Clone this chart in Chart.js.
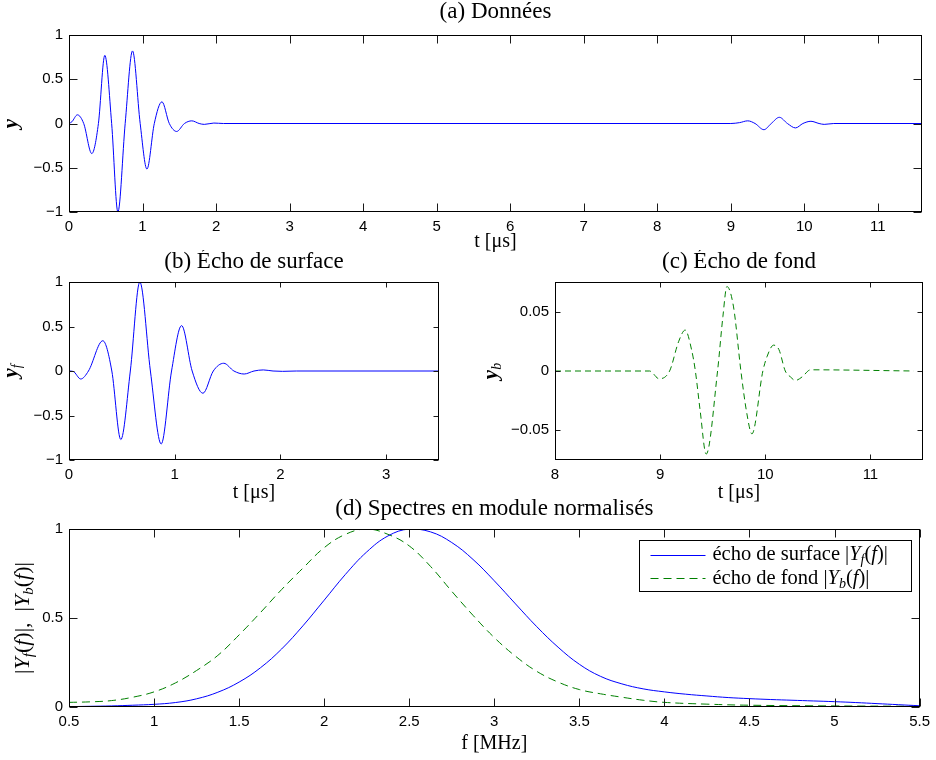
<!DOCTYPE html>
<html lang="fr">
<head>
<meta charset="utf-8">
<title>Écho de surface et écho de fond</title>
<script src="https://cdn.jsdelivr.net/npm/chart.js@4.4.1/dist/chart.umd.min.js"></script>
<style>
  html, body { margin: 0; padding: 0; background: #fff; }
  #wrap { position: relative; width: 936px; height: 760px; overflow: hidden; }
  canvas { position: absolute; }
</style>
</head>
<body>
<div id="wrap">
  <canvas id="chartA" width="936" height="254" style="left:0;top:0"></canvas>
  <canvas id="chartB" width="470" height="255" style="left:0;top:250px"></canvas>
  <canvas id="chartC" width="466" height="255" style="left:470px;top:250px"></canvas>
  <canvas id="chartD" width="936" height="259" style="left:0;top:497px"></canvas>
</div>
<script>
// (a) full record
const aTime = [0, 0.04, 0.114, 0.2, 0.31, 0.4, 0.487, 0.58, 0.665, 0.764, 0.864, 0.968, 1.06, 1.16, 1.264, 1.364, 1.464, 1.57, 1.67, 1.77, 1.84, 1.97, 2.1,
  9.0, 9.12, 9.23, 9.33, 9.45, 9.55, 9.66, 9.77, 9.88, 9.98, 10.09, 10.2, 10.27, 10.4, 11.6];
const aSignal = [0, 0.02, 0.098, 0, -0.34, 0, 0.77, 0, -1.0, 0, 0.82, 0, -0.515, 0, 0.245, 0, -0.09, 0, 0.03, 0, -0.01, 0.005, 0,
  0, 0.01, 0.03, 0, -0.07, 0, 0.07, 0, -0.05, 0, 0.025, 0, -0.01, 0, 0];
const aTicksX = [0, 1, 2, 3, 4, 5, 6, 7, 8, 9, 10, 11];
const aTicksY = [-1, -0.5, 0, 0.5, 1];

// (b) surface echo
const bTime = [0, 0.04, 0.111, 0.184, 0.32, 0.405, 0.49, 0.58, 0.67, 0.77, 0.872, 0.97, 1.065, 1.165, 1.267, 1.365, 1.464, 1.56, 1.657, 1.75, 1.838, 1.93, 2.02, 2.15, 3.5];
const bSurface = [0, -0.005, -0.09, 0, 0.34, 0, -0.77, 0, 1.0, 0, -0.82, 0, 0.51, 0, -0.25, 0, 0.087, 0, -0.034, 0, 0.012, 0, -0.004, 0, 0];
const bTicksX = [0, 1, 2, 3];
const bTicksY = [-1, -0.5, 0, 0.5, 1];

// (c) back echo
const cTime = [8.0, 8.5, 8.9, 8.99, 9.09, 9.175, 9.238, 9.3, 9.335, 9.38, 9.438, 9.546, 9.597, 9.635, 9.698, 9.768, 9.825, 9.873, 9.977, 10.016, 10.079, 10.13, 10.19, 10.24, 10.286, 10.35, 10.43, 11.41];
const cBack = [0, 0, 0, -0.0065, 0, 0.0246, 0.0345, 0.0175, 0, -0.033, -0.07, 0, 0.046, 0.0712, 0.054, 0, -0.036, -0.053, 0, 0.012, 0.0218, 0.018, 0, -0.005, -0.008, -0.005, 0.001, 0];
const cTicksX = [8, 9, 10, 11];
const cTicksY = [-0.05, 0, 0.05];

// (d) normalised spectra
const dFreqSurface = [0.5, 0.625, 0.75, 0.875, 1.0, 1.125, 1.25, 1.375, 1.5, 1.625, 1.75, 1.875, 2.0, 2.125, 2.25, 2.375, 2.5, 2.625, 2.75, 2.875,
  3.0, 3.125, 3.25, 3.375, 3.5, 3.625, 3.75, 3.875, 4.0, 4.125, 4.25, 4.375, 4.5, 4.625, 4.75, 4.875, 5.0, 5.125, 5.25, 5.375, 5.5];
const dSpecSurface = [0.002, 0.004, 0.006, 0.01, 0.015, 0.025, 0.046, 0.083, 0.14, 0.22, 0.326, 0.456, 0.6, 0.745, 0.871, 0.961, 1.0, 0.984, 0.924, 0.829,
  0.709, 0.579, 0.451, 0.336, 0.24, 0.172, 0.13, 0.102, 0.085, 0.072, 0.062, 0.053, 0.047, 0.042, 0.038, 0.034, 0.03, 0.025, 0.019, 0.013, 0.007];
const dFreqBack = [0.5, 0.625, 0.75, 0.875, 1.0, 1.125, 1.25, 1.375, 1.5, 1.625, 1.75, 1.875, 2.0, 2.125, 2.25, 2.375, 2.5, 2.625, 2.75, 2.875,
  3.0, 3.125, 3.25, 3.375, 3.5, 3.625, 3.75, 3.875, 4.0, 4.25, 4.5, 5.0, 5.5];
const dSpecBack = [0.026, 0.029, 0.036, 0.055, 0.085, 0.135, 0.205, 0.29, 0.405, 0.53, 0.66, 0.78, 0.895, 0.97, 1.0, 0.97, 0.905, 0.79, 0.65, 0.515,
  0.39, 0.285, 0.2, 0.14, 0.098, 0.074, 0.055, 0.038, 0.026, 0.016, 0.01, 0.006, 0.004];
const dTicksX = [0.5, 1, 1.5, 2, 2.5, 3, 3.5, 4, 4.5, 5, 5.5];
const dTicksY = [0, 0.5, 1];

const BLUE = "#0000ff";
const GREEN = "#008000";
const SERIF = '"Liberation Serif", "Times New Roman", serif';
const SANS = '"Liberation Sans", Arial, sans-serif';

Chart.defaults.color = "#000";

function pairs(xs, ys) {
  return xs.map((x, i) => ({ x: x, y: ys[i] }));
}

function fixedTicks(values) {
  return function (scale) {
    scale.ticks = values.map((v) => ({ value: v }));
  };
}

function fmt(v) {
  return v < 0 ? "\u2212" + Math.abs(v) : String(v);
}

// draws a run of text pieces with their own fonts, centred on x
function drawParts(ctx, parts, x, y) {
  let total = 0;
  parts.forEach((p) => {
    ctx.font = p.f;
    total += ctx.measureText(p.t).width;
  });
  let cx = x - total / 2;
  parts.forEach((p) => {
    ctx.font = p.f;
    ctx.fillText(p.t, cx, y + (p.dy || 0));
    cx += ctx.measureText(p.t).width;
  });
}

function drawPartsLeft(ctx, parts, x, y) {
  let cx = x;
  parts.forEach((p) => {
    ctx.font = p.f;
    ctx.fillText(p.t, cx, y + (p.dy || 0));
    cx += ctx.measureText(p.t).width;
  });
}

// box round the plot area and inward ticks on every side
const frameTicks = {
  id: "frameTicks",
  afterDatasetsDraw(chart, args, opts) {
    const { ctx, chartArea: a, scales } = chart;
    const len = opts.len || 6;
    const L = Math.round(a.left) + 0.5;
    const R = Math.round(a.right) - 0.5;
    const T = Math.round(a.top) + 0.5;
    const B = Math.round(a.bottom) - 0.5;
    ctx.save();
    ctx.strokeStyle = "#1a1a1a";
    ctx.lineWidth = 1;
    ctx.beginPath();
    scales.x.ticks.forEach((t) => {
      const px = Math.round(scales.x.getPixelForValue(t.value)) + 0.5;
      ctx.moveTo(px, B);
      ctx.lineTo(px, B - len);
      ctx.moveTo(px, T);
      ctx.lineTo(px, T + len);
    });
    scales.y.ticks.forEach((t) => {
      const py = Math.round(scales.y.getPixelForValue(t.value)) + 0.5;
      ctx.moveTo(L, py);
      ctx.lineTo(L + len, py);
      ctx.moveTo(R, py);
      ctx.lineTo(R - len, py);
    });
    ctx.stroke();
    ctx.strokeStyle = "#000";
    ctx.strokeRect(L, T, R - L, B - T);
    ctx.restore();
  },
};

// rotated y label with sub-scripts
const yLabel = {
  id: "yLabel",
  afterDraw(chart, args, opts) {
    const { ctx, chartArea: a } = chart;
    ctx.save();
    ctx.fillStyle = "#000";
    ctx.textBaseline = "alphabetic";
    ctx.translate(opts.x, (a.top + a.bottom) / 2);
    ctx.rotate(-Math.PI / 2);
    drawParts(ctx, opts.parts, 0, 0);
    ctx.restore();
  },
};

// legend box drawn inside the plot area, top right
const boxLegend = {
  id: "boxLegend",
  afterDraw(chart, args, opts) {
    const { ctx, chartArea: a } = chart;
    const left = Math.round(a.right - opts.right - opts.width) + 0.5;
    const top = Math.round(a.top + opts.top) + 0.5;
    ctx.save();
    ctx.fillStyle = "#fff";
    ctx.fillRect(left, top, opts.width, opts.height);
    ctx.strokeStyle = "#000";
    ctx.lineWidth = 1;
    ctx.strokeRect(left, top, opts.width, opts.height);
    chart.data.datasets.forEach((ds, i) => {
      const y = top + 14 + i * 23.5;
      ctx.strokeStyle = ds.borderColor;
      ctx.setLineDash(ds.borderDash || []);
      ctx.beginPath();
      ctx.moveTo(left + 11, Math.round(y) + 0.5);
      ctx.lineTo(left + 66, Math.round(y) + 0.5);
      ctx.stroke();
      ctx.setLineDash([]);
      ctx.fillStyle = "#000";
      ctx.textBaseline = "alphabetic";
      drawPartsLeft(ctx, opts.entries[i], left + 73, y + 5.5);
    });
    ctx.restore();
  },
};

function makePlot(id, p) {
  const tickFont = { family: SANS, size: 15 };
  return new Chart(document.getElementById(id), {
    type: "line",
    data: { datasets: p.datasets },
    options: {
      responsive: false,
      animation: false,
      events: [],
      layout: { padding: { left: 0, right: p.padRight, top: 0, bottom: 0 } },
      elements: {
        point: { radius: 0 },
        line: { borderWidth: 1, cubicInterpolationMode: p.smooth || "monotone", tension: 0.4 },
      },
      scales: {
        x: {
          type: "linear",
          min: p.xMin,
          max: p.xMax,
          grid: { display: false, drawTicks: false },
          border: { display: false },
          ticks: { padding: 6, font: tickFont, color: "#000", autoSkip: false, maxRotation: 0, callback: fmt },
          afterBuildTicks: fixedTicks(p.xTicks),
          afterFit: (s) => { s.height = p.xHeight; },
          title: { display: true, text: p.xLabel, font: { family: SERIF, size: 20 }, color: "#000", padding: 0 },
        },
        y: {
          type: "linear",
          min: p.yMin,
          max: p.yMax,
          grid: { display: false, drawTicks: false },
          border: { display: false },
          ticks: { padding: 6, font: tickFont, color: "#000", autoSkip: false, callback: fmt },
          afterBuildTicks: fixedTicks(p.yTicks),
          afterFit: (s) => { s.width = p.yWidth; },
        },
      },
      plugins: {
        legend: { display: false },
        tooltip: { enabled: false },
        title: {
          display: true,
          text: p.title,
          fullSize: false,
          font: { family: SERIF, size: 23, weight: "normal", lineHeight: 1 },
          color: "#000",
          padding: { top: 0.5, bottom: p.titleGap },
        },
        frameTicks: { len: p.tickLen },
        yLabel: { x: p.yLabelX, parts: p.yLabelParts },
        boxLegend: p.legend || false,
      },
    },
    plugins: [frameTicks, yLabel, boxLegend],
  });
}

const boldY = "bold italic 21px " + SERIF;
const subIt = "italic 14px " + SERIF;

makePlot("chartA", {
  title: "(a) Données",
  titleGap: 11.5,
  xLabel: "t [\u03bcs]",
  xMin: 0, xMax: 11.6, xTicks: aTicksX,
  yMin: -1, yMax: 1, yTicks: aTicksY,
  xHeight: 42, yWidth: 69, padRight: 14, tickLen: 8,
  yLabelX: 17,
  yLabelParts: [{ t: "y", f: boldY }],
  datasets: [{ data: pairs(aTime, aSignal), borderColor: BLUE }],
});

makePlot("chartB", {
  title: "(b) Écho de surface",
  titleGap: 8.5,
  xLabel: "t [\u03bcs]",
  xMin: 0, xMax: 3.5, xTicks: bTicksX,
  yMin: -1, yMax: 1, yTicks: bTicksY,
  xHeight: 45, yWidth: 69, padRight: 31, tickLen: 5,
  yLabelX: 17,
  yLabelParts: [{ t: "y", f: boldY }, { t: "f", f: subIt, dy: 4 }],
  datasets: [{ data: pairs(bTime, bSurface), borderColor: BLUE }],
});

makePlot("chartC", {
  title: "(c) Écho de fond",
  titleGap: 8.5,
  xLabel: "t [\u03bcs]",
  xMin: 8, xMax: 11.5, xTicks: cTicksX,
  yMin: -0.075, yMax: 0.075, yTicks: cTicksY,
  xHeight: 45, yWidth: 85, padRight: 13, tickLen: 5,
  yLabelX: 27,
  yLabelParts: [{ t: "y", f: boldY }, { t: "b", f: subIt, dy: 4 }],
  datasets: [{ data: pairs(cTime, cBack), borderColor: GREEN, borderDash: [6, 4] }],
});

const leg = "20.5px " + SERIF;
const legIt = "italic 20.5px " + SERIF;
const legSub = "italic 14px " + SERIF;
const lab = "22px " + SERIF;
const labIt = "italic 22px " + SERIF;
const labSub = "italic 15px " + SERIF;

makePlot("chartD", {
  title: "(d) Spectres en module normalisés",
  titleGap: 8.5,
  xLabel: "f [MHz]",
  xMin: 0.5, xMax: 5.5, xTicks: dTicksX,
  yMin: 0, yMax: 1, yTicks: dTicksY,
  xHeight: 49, yWidth: 69, padRight: 14, tickLen: 8,
  smooth: "default",
  yLabelX: 29,
  yLabelParts: [
    { t: "|", f: lab }, { t: "Y", f: labIt }, { t: "f", f: labSub, dy: 4 }, { t: "(", f: lab }, { t: "f", f: labIt }, { t: ")|,  |", f: lab },
    { t: "Y", f: labIt }, { t: "b", f: labSub, dy: 4 }, { t: "(", f: lab }, { t: "f", f: labIt }, { t: ")|", f: lab },
  ],
  legend: {
    right: 8.5, top: 10.5, width: 272, height: 51,
    entries: [
      [{ t: "écho de surface |", f: leg }, { t: "Y", f: legIt }, { t: "f", f: legSub, dy: 4 }, { t: "(", f: leg }, { t: "f", f: legIt }, { t: ")|", f: leg }],
      [{ t: "écho de fond |", f: leg }, { t: "Y", f: legIt }, { t: "b", f: legSub, dy: 4 }, { t: "(", f: leg }, { t: "f", f: legIt }, { t: ")|", f: leg }],
    ],
  },
  datasets: [
    { data: pairs(dFreqSurface, dSpecSurface), borderColor: BLUE },
    { data: pairs(dFreqBack, dSpecBack), borderColor: GREEN, borderDash: [8, 5] },
  ],
});
</script>
</body>
</html>
